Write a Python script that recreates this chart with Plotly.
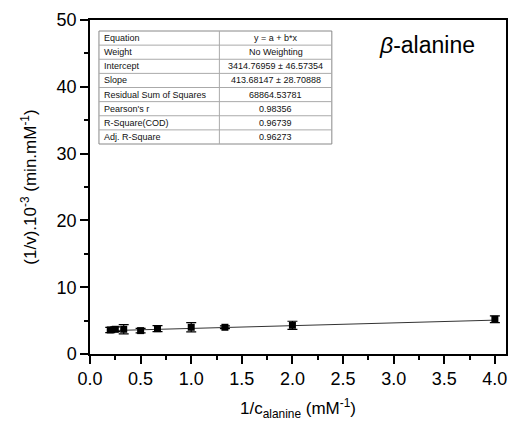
import plotly.graph_objects as go

# Data (values in thousands)
x_vals = [0.2, 0.25, 0.333, 0.5, 0.667, 1.0, 1.333, 2.0, 4.0]
y_vals = [3.6, 3.7, 3.7, 3.5, 3.8, 4.0, 4.0, 4.3, 5.2]
y_err = [0.4, 0.35, 0.7, 0.35, 0.45, 0.7, 0.2, 0.6, 0.5]

intercept = 3.41477
slope = 0.41368

table_labels = ["Equation", "Weight", "Intercept", "Slope", "Residual Sum of Squares",
                "Pearson's r", "R-Square(COD)", "Adj. R-Square"]
table_values = ["y = a + b*x", "No Weighting", "3414.76959 ± 46.57354", "413.68147 ± 28.70888",
                "68864.53781", "0.98356", "0.96739", "0.96273"]

FONT = "Arial, Liberation Sans, sans-serif"

fit_x = [min(x_vals), max(x_vals)]
fit_y = [intercept + slope * v for v in fit_x]

fig = go.Figure()
fig.add_trace(go.Scatter(x=fit_x, y=fit_y, mode="lines",
                         line=dict(color="#333333", width=1), showlegend=False))
fig.add_trace(go.Scatter(x=x_vals, y=y_vals, mode="markers",
                         marker=dict(symbol="square", size=7, color="black"),
                         error_y=dict(type="data", array=y_err, color="black", thickness=1.2, width=5),
                         showlegend=False))

W, H = 512, 423
ml, mr, mt, mb = 90, 4, 20, 69
pw, ph = W - ml - mr, H - mt - mb

def px(xp):
    return (xp - ml) / pw

def py(yp):
    return (H - mb - yp) / ph

# table geometry in pixels
tx0, tx1, tdiv = 99, 333, 220
ty0, ty1 = 31, 144
n = len(table_labels)
rh = (ty1 - ty0) / n
shapes = []
shapes.append(dict(type="rect", xref="paper", yref="paper", x0=px(tx0), x1=px(tx1),
                   y0=py(ty1), y1=py(ty0), line=dict(color="#888888", width=1),
                   fillcolor="white", layer="below"))
shapes.append(dict(type="line", xref="paper", yref="paper", x0=px(tdiv), x1=px(tdiv),
                   y0=py(ty1), y1=py(ty0), line=dict(color="#aaaaaa", width=1)))
annotations = []
for i in range(n):
    if i > 0:
        yl = ty0 + i * rh
        shapes.append(dict(type="line", xref="paper", yref="paper", x0=px(tx0), x1=px(tx1),
                           y0=py(yl), y1=py(yl), line=dict(color="#aaaaaa", width=1)))
    yc = ty0 + (i + 0.5) * rh
    annotations.append(dict(xref="paper", yref="paper", x=px(tx0 + 3), y=py(yc),
                            xanchor="left", yanchor="middle", showarrow=False,
                            text=table_labels[i], font=dict(family=FONT, size=9, color="#111")))
    annotations.append(dict(xref="paper", yref="paper", x=px((tdiv + tx1) / 2), y=py(yc),
                            xanchor="center", yanchor="middle", showarrow=False,
                            text=table_values[i], font=dict(family=FONT, size=9, color="#111")))

annotations.append(dict(xref="paper", yref="paper", x=px(429), y=py(45), xanchor="center",
                        yanchor="middle", showarrow=False, text="<i>β</i>-alanine",
                        font=dict(family=FONT, size=23, color="black")))

fig.update_layout(
    width=W, height=H, margin=dict(l=ml, r=mr, t=mt, b=mb),
    paper_bgcolor="white", plot_bgcolor="white",
    font=dict(family=FONT, color="black"),
    shapes=shapes, annotations=annotations,
)
fig.update_xaxes(range=[0, 4.11], tickmode="array", tickvals=[0, 0.5, 1, 1.5, 2, 2.5, 3, 3.5, 4],
                 ticktext=["0.0", "0.5", "1.0", "1.5", "2.0", "2.5", "3.0", "3.5", "4.0"],
                 ticks="outside", ticklen=8, tickwidth=1.5, tickcolor="black",
                 minor=dict(ticks="outside", ticklen=4, dtick=0.25, tickcolor="black", tickwidth=1.5),
                 showline=True, linecolor="black", linewidth=1.5, mirror=True,
                 showgrid=False, zeroline=False, tickfont=dict(size=18),
                 title=dict(text="1/c<sub>alanine</sub> (mM<sup>-1</sup>)", font=dict(size=17), standoff=14))
fig.update_yaxes(range=[0, 50], tickvals=[0, 10, 20, 30, 40, 50],
                 ticks="outside", ticklen=8, tickwidth=1.5, tickcolor="black",
                 minor=dict(ticks="outside", ticklen=4, dtick=5, tickcolor="black", tickwidth=1.5),
                 showline=True, linecolor="black", linewidth=1.5, mirror=True,
                 showgrid=False, zeroline=False, tickfont=dict(size=18),
                 title=dict(text="(1/v).10<sup>-3</sup> (min.mM<sup>-1</sup>)", font=dict(size=17), standoff=16))

fig.write_html("out.html")
